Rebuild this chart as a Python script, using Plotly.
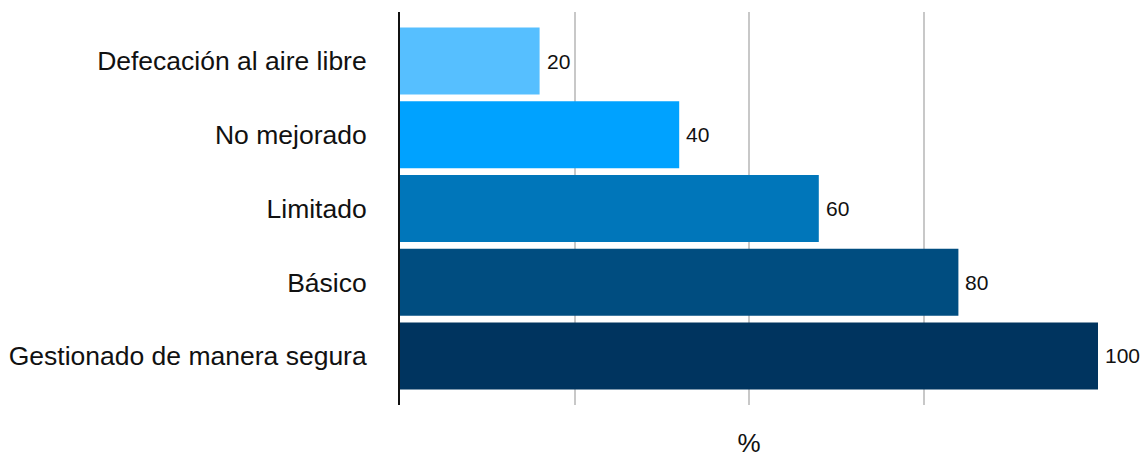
import plotly.graph_objects as go

categories = ["Defecación al aire libre", "No mejorado", "Limitado", "Básico", "Gestionado de manera segura"]
values = [20, 40, 60, 80, 100]
colors = ["#56BFFF", "#00A2FF", "#0076BA", "#004D80", "#00345F"]
x_ticks = [0, 25, 50, 75, 100]
x_title = "%"

FONT = "Liberation Sans, Arial, Helvetica, sans-serif"

fig = go.Figure()
fig.add_trace(go.Bar(
    y=categories, x=values, orientation="h",
    marker=dict(color=colors, line=dict(width=0)),
    width=0.91, showlegend=False, hoverinfo="x+y",
))

for c, v in zip(categories, values):
    fig.add_annotation(x=v, y=c, text=str(v), showarrow=False,
                       xanchor="left", yanchor="middle", xshift=5,
                       font=dict(family=FONT, size=21, color="#111111"))

fig.update_layout(
    width=1141, height=458,
    margin=dict(l=400, r=43, t=12, b=53, autoexpand=False),
    plot_bgcolor="white", paper_bgcolor="white",
    font=dict(family=FONT, color="#111111"),
    bargap=0.09,
)
fig.update_xaxes(
    range=[0, 100], tickvals=x_ticks, showticklabels=False,
    showgrid=True, gridcolor="#C8C8C8", gridwidth=2,
    zeroline=False, showline=False, automargin=True,
    title=dict(text=x_title, font=dict(family=FONT, size=26, color="#111111"), standoff=36),
)
fig.update_yaxes(
    categoryorder="array", categoryarray=categories[::-1],
    range=[-0.665, 4.665], automargin=False,
    showline=True, linecolor="#111111", linewidth=2,
    showgrid=False, zeroline=False, ticks="", ticklabelstandoff=26,
    tickfont=dict(family=FONT, size=26.5, color="#111111"),
)

fig.write_html(
    "out.html",
    config={"displayModeBar": False},
    post_script="document.body.style.margin='0';document.body.style.overflow='hidden';",
)
